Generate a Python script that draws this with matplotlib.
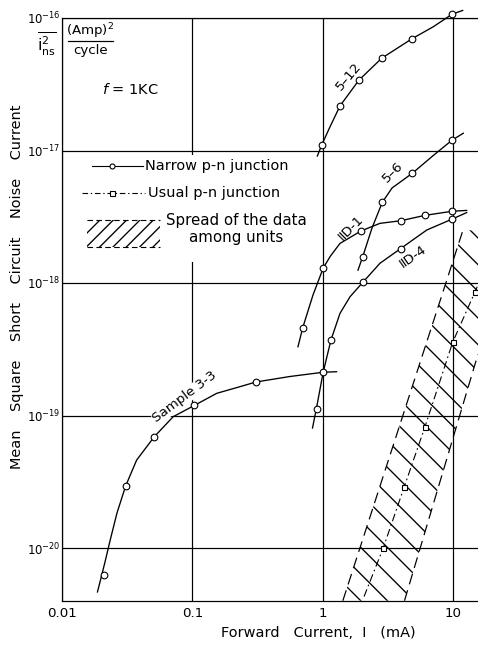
import numpy as np
import matplotlib
matplotlib.use("Agg")
import matplotlib.pyplot as plt
from matplotlib.patches import Rectangle

plt.rcParams['font.family'] = ['DejaVu Sans']
plt.rcParams['mathtext.fontset'] = 'dejavusans'
plt.rcParams['hatch.linewidth'] = 1.2

# ---------------- data ----------------
x_ticks = [0.01, 0.1, 1, 10]
x_tick_labels = ['0.01', '0.1', '1', '10']
y_ticks = [1e-20, 1e-19, 1e-18, 1e-17, 1e-16]
y_tick_labels = [r'$10^{-20}$', r'$10^{-19}$', r'$10^{-18}$', r'$10^{-17}$', r'$10^{-16}$']

# Sample 3-3
s33_x = [0.021, 0.0308, 0.0511, 0.1035, 0.308, 1.01]
s33_y = [6.25e-21, 2.94e-20, 6.92e-20, 1.19e-19, 1.79e-19, 2.12e-19]
s33_curve_x = [0.01872, 0.01992, 0.02138, 0.02335, 0.02643, 0.0308, 0.0374, 0.0511, 0.0714,
               0.1035, 0.154, 0.232, 0.308, 0.562, 1.01, 1.28]
s33_curve_y = [4.66e-21, 5.94e-21, 7.84e-21, 1.13e-20, 1.84e-20, 2.94e-20, 4.61e-20, 6.92e-20,
               9.8e-20, 1.19e-19, 1.47e-19, 1.65e-19, 1.79e-19, 1.97e-19, 2.12e-19, 2.14e-19]

# IID-4
d4_x = [0.901, 1.16, 2.032, 3.975, 9.89]
d4_y = [1.114e-19, 3.72e-19, 1.01e-18, 1.82e-18, 3.04e-18]
d4_curve_x = [0.8367, 0.901, 1.01, 1.16, 1.36, 1.623, 2.032, 2.758, 3.975, 6.296, 9.89, 12.76]
d4_curve_y = [8.05e-20, 1.16e-19, 2.12e-19, 3.72e-19, 5.9e-19, 7.87e-19, 1.01e-18, 1.41e-18,
              1.82e-18, 2.51e-18, 3.04e-18, 3.4e-18]

# IID-1
d1_x = [0.704, 1.012, 1.971, 3.975, 6.11, 9.89]
d1_y = [4.6e-19, 1.3e-18, 2.47e-18, 2.95e-18, 3.24e-18, 3.48e-18]
d1_curve_x = [0.647, 0.704, 0.844, 1.012, 1.15, 1.36, 1.971, 2.758, 3.975, 6.11, 9.89, 12.76]
d1_curve_y = [3.3e-19, 4.6e-19, 8.12e-19, 1.3e-18, 1.6e-18, 1.99e-18, 2.47e-18, 2.82e-18,
              2.95e-18, 3.24e-18, 3.48e-18, 3.53e-18]

# 5-6
s56_x = [2.032, 2.872, 4.879, 9.89]
s56_y = [1.58e-18, 4.06e-18, 6.73e-18, 1.2e-17]
s56_curve_x = [1.869, 2.032, 2.394, 2.872, 3.409, 4.879, 7.07, 9.89, 12.02]
s56_curve_y = [1.25e-18, 1.58e-18, 2.6e-18, 4.06e-18, 5.21e-18, 6.73e-18, 9.17e-18, 1.2e-17, 1.35e-17]

# 5-12
s512_x = [0.984, 1.36, 1.902, 2.842, 4.828, 9.89]
s512_y = [1.1e-17, 2.17e-17, 3.4e-17, 4.97e-17, 6.95e-17, 1.07e-16]
s512_curve_x = [0.911, 0.984, 1.14, 1.36, 1.902, 2.842, 4.828, 7.07, 9.89, 11.89]
s512_curve_y = [9.08e-18, 1.1e-17, 1.51e-17, 2.17e-17, 3.4e-17, 4.97e-17, 6.95e-17, 8.59e-17,
                1.07e-16, 1.14e-16]

# Usual p-n junction
usual_x = [2.92, 4.22, 6.1, 9.95, 14.8]
usual_y = [1.0e-20, 2.87e-20, 8.2e-20, 3.56e-19, 8.6e-19]
usual_line_x = [2.08, 2.92, 4.22, 6.1, 9.95, 14.8, 15.58]
usual_line_y = [4.3e-21, 1.0e-20, 2.87e-20, 8.2e-20, 3.56e-19, 8.6e-19, 9.7e-19]

# Spread of the data among units (band edges)
band_left_x = [1.43, 11.94]
band_left_y = [4.0e-21, 2.5e-18]
band_right_x = [4.25, 15.58]
band_right_y = [4.0e-21, 2.9e-19]

# ---------------- figure ----------------
W, H, DPI = 478, 646, 80
fig = plt.figure(figsize=(W / DPI, H / DPI), dpi=DPI)
ax = fig.add_axes([62 / W, 1 - 601 / H, 416 / W, 583 / H])
ax.set_xscale('log')
ax.set_yscale('log')
x_max = 10 ** (-2 + 416 / 130.3)
y_min = 10 ** (-16 - 583 / 132.5)
ax.set_xlim(0.01, x_max)
ax.set_ylim(y_min, 1e-16)

ax.set_axisbelow(True)
ax.grid(True, which='major', color='black', lw=1.1)
ax.set_xticks(x_ticks, x_tick_labels)
ax.set_yticks(y_ticks, y_tick_labels)
ax.minorticks_off()
ax.tick_params(which='both', length=0)
ax.tick_params(axis='x', pad=5, labelsize=12)
ax.tick_params(axis='y', pad=1, labelsize=10.5)
ax.spines['right'].set_visible(False)
for s in ('left', 'bottom', 'top'):
    ax.spines[s].set_linewidth(1.1)

# white area behind the legend (grid interrupted there)
ax.add_patch(Rectangle((0.019, 0.5815), 0.596, 0.1835, transform=ax.transAxes,
                       fc='white', ec='none', zorder=1.5))

lw = 1.2
mk = dict(ls='none', marker='o', ms=6, mfc='white', mec='black', mew=1.0, zorder=4)

# band
poly_x = [band_left_x[0], band_left_x[1], x_max, band_right_x[1], band_right_x[0]]
poly_y = [band_left_y[0], band_left_y[1], band_left_y[1], band_right_y[1], band_right_y[0]]
ax.fill(poly_x, poly_y, facecolor='none', edgecolor='black', lw=0, hatch='\\', zorder=2)
ax.plot(band_left_x, band_left_y, color='k', lw=1.1, dashes=(9, 5), zorder=3)
ax.plot(band_right_x, band_right_y, color='k', lw=1.1, dashes=(9, 5), zorder=3)

# usual p-n junction
ax.plot(usual_line_x, usual_line_y, color='k', lw=1.0, dashes=(7, 3, 1.5, 3), zorder=3)
ax.plot(usual_x, usual_y, ls='none', marker='s', ms=4.5, mfc='white', mec='black', mew=1.0, zorder=4)

# narrow p-n junction curves
for cx, cy, mx, my in [(s33_curve_x, s33_curve_y, s33_x, s33_y),
                       (d4_curve_x, d4_curve_y, d4_x, d4_y),
                       (d1_curve_x, d1_curve_y, d1_x, d1_y),
                       (s56_curve_x, s56_curve_y, s56_x, s56_y),
                       (s512_curve_x, s512_curve_y, s512_x, s512_y)]:
    ax.plot(cx, cy, color='k', lw=lw, zorder=3, clip_on=False)
    ax.plot(mx, my, clip_on=False, **mk)

# curve labels
lab = dict(transform=ax.transAxes, ha='center', va='center', fontsize=12)
ax.text(0.6899, 0.9005, '5\u201312', rotation=50, **lab)
ax.text(0.7957, 0.7358, '5\u20136', rotation=45, **lab)
ax.text(0.6947, 0.6398, '\u2161D-1', rotation=45, **lab)
ax.text(0.8438, 0.5900, '\u2161D-4', rotation=35, **lab)
ax.text(0.2957, 0.3499, 'Sample 3-3', rotation=37, zorder=2.5,
        bbox=dict(fc='white', ec='none', pad=0.5), **lab)

# legend (hand drawn)
T = ax.transAxes
ax.plot([0.0721, 0.1947], [0.7461, 0.7461], color='k', lw=1.0, transform=T, zorder=3)
ax.plot([0.1202], [0.7461], transform=T, ls='none', marker='o', ms=4.5, mfc='white',
        mec='black', mew=1.0, zorder=4)
ax.text(0.1995, 0.7461, 'Narrow p-n junction', transform=T, ha='left', va='center', fontsize=13)
ax.plot([0.0481, 0.1995], [0.6998, 0.6998], color='k', lw=1.0, dashes=(5, 2.5, 1.2, 2.5),
        transform=T, zorder=3)
ax.plot([0.1202], [0.6998], transform=T, ls='none', marker='s', ms=4.5, mfc='white',
        mec='black', mew=1.0, zorder=4)
ax.text(0.2067, 0.6998, 'Usual p-n junction', transform=T, ha='left', va='center', fontsize=13)
ax.add_patch(Rectangle((0.0601, 0.6072), 0.1755, 0.0463, transform=T, fc='none', ec='black',
                       lw=0, hatch='//', zorder=2))
ax.plot([0.0601, 0.2356], [0.6535, 0.6535], color='k', lw=1.0, dashes=(5, 3), transform=T, zorder=3)
ax.plot([0.0601, 0.2356], [0.6072, 0.6072], color='k', lw=1.0, dashes=(5, 3), transform=T, zorder=3)
ax.text(0.4183, 0.6381, 'Spread of the data\namong units', transform=T, ha='center',
        va='center', fontsize=13.5, linespacing=1.1)

# unit annotations
ax.text(0.0673, 0.9777, r'(Amp)$^{2}$', transform=T, ha='center', va='center', fontsize=12)
ax.plot([0.0144, 0.1226], [0.9605, 0.9605], color='k', lw=1.1, transform=T)
ax.text(0.0697, 0.9434, 'cycle', transform=T, ha='center', va='center', fontsize=12)
ax.text(0.1635, 0.8782, r'$\mathit{f}$ = 1KC', transform=T, ha='center', va='center', fontsize=13)
fig.text(47 / W, 1 - 44 / H, r'$\overline{\mathrm{i}^{2}_{\mathrm{ns}}}$', ha='center',
         va='center', fontsize=14)

# axis titles
fig.text(17 / W, 1 - 286.5 / H, 'Mean    Square    Short    Circuit    Noise    Current',
         rotation=90, ha='center', va='center', fontsize=13)
fig.text(318 / W, 1 - 633 / H, 'Forward   Current,  I   (mA)', ha='center', va='center', fontsize=13)

fig.savefig('out.png', dpi=DPI)
